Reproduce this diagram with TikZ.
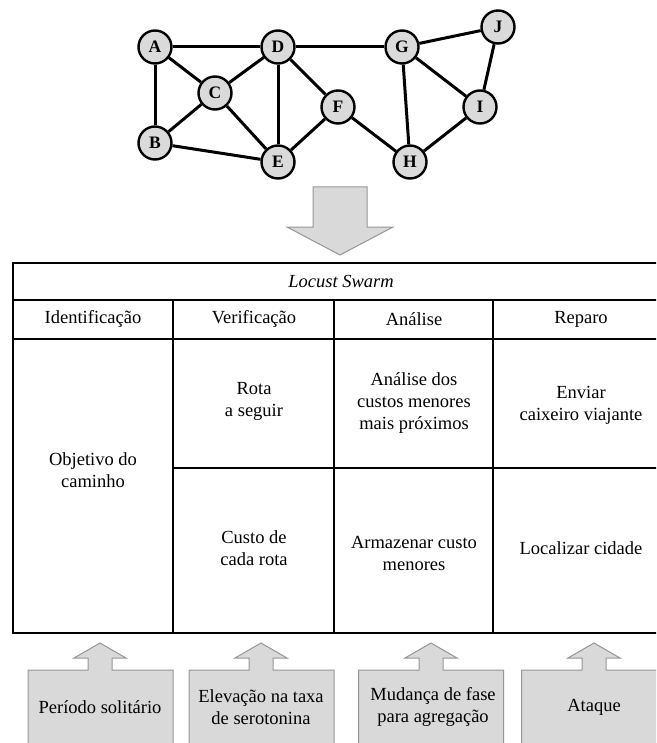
\documentclass[tikz,border=0pt]{standalone}
\usepackage{fontspec}
\setmainfont{Liberation Serif}
\definecolor{nodegray}{RGB}{218,218,218}
\definecolor{boxgray}{RGB}{217,217,217}
\definecolor{boxedge}{RGB}{150,150,150}
\begin{document}
\begin{tikzpicture}[x=1pt,y=-1pt,
  city/.style={circle,draw=black,line width=2.4pt,fill=nodegray,minimum size=33pt,
    inner sep=0pt,font=\fontsize{17.5}{17.5}\selectfont\bfseries},
  road/.style={line width=3pt,black},
  grid/.style={line width=1.8pt,black},
  frame/.style={line width=2.8pt,black},
  cell/.style={align=center,inner sep=0pt,font=\fontsize{18.5}{22}\selectfont},
  callout/.style={fill=boxgray,draw=boxedge,line width=1pt,line join=miter},
  bigarrow/.style={fill=boxgray,draw=boxedge,line width=1pt}]
\useasboundingbox (0,0) rectangle (656,743);
\clip (0,0) rectangle (656,743);

% graph of cities
\node[city] (A) at (155,47) {A};
\node[city] (D) at (278,47) {D};
\node[city] (G) at (402,47) {G};
\node[city] (J) at (498,27) {J};
\node[city] (C) at (215,93) {C};
\node[city] (F) at (338,107) {F};
\node[city] (I) at (480,107) {I};
\node[city] (B) at (155,143) {B};
\node[city] (E) at (278,162) {E};
\node[city] (H) at (410,162) {H};
\foreach \u/\v in {A/D,D/G,G/J,A/C,A/B,C/D,C/B,C/E,D/E,D/F,B/E,F/E,F/H,G/H,G/I,J/I,I/H}
  \draw[road] (\u) -- (\v);

% downward arrow
\draw[bigarrow] (313,187) -- (367,187) -- (367,227) -- (393,227) -- (340,255)
  -- (287,227) -- (313,227) -- cycle;

% table
\draw[grid] (13,300) -- (669,300);
\draw[grid] (13,339) -- (669,339);
\draw[grid] (173,300) -- (173,633);
\draw[grid] (334,300) -- (334,633);
\draw[grid] (493,300) -- (493,633);
\draw[grid] (173,468) -- (669,468);
\draw[frame] (13,263) rectangle (669,633);

\node[cell,font=\fontsize{18.5}{22}\selectfont\itshape] (title) at (341,281) {Locust Swarm};
\node[cell] (h1) at (93,319) {Identificação};
\node[cell] (h2) at (254,319) {Verificação};
\node[cell] (h3) at (414,319) {Análise};
\node[cell] (h4) at (581,319) {Reparo};

\node[cell] (c1) at (93,470) {Objetivo do\\caminho};
\node[cell] (c2) at (254,401) {Rota\\a seguir};
\node[cell] (c3) at (414,403) {Análise dos\\custos menores\\mais próximos};
\node[cell] (c4) at (581,405) {Enviar\\caixeiro viajante};
\node[cell] (c5) at (254,548) {Custo de\\cada rota};
\node[cell] (c6) at (414,553) {Armazenar custo\\menores};
\node[cell] (c7) at (581,548) {Localizar cidade};

% up-arrow callouts
\foreach \cx/\ax in {100.5/100,261.5/261,431/431,594/594}{
  \draw[callout] (\cx-72.5,760) -- (\cx-72.5,670) -- (\ax-12,670) -- (\ax-12,658)
    -- (\ax-26,658) -- (\ax,643) -- (\ax+26,658) -- (\ax+12,658) -- (\ax+12,670)
    -- (\cx+72.5,670) -- (\cx+72.5,760);
}
\node[cell] (p1) at (100,707) {Período solitário};
\node[cell] (p2) at (261,707) {Elevação na taxa\\de serotonina};
\node[cell] (p3) at (433,707) {Mudança de fase\\para agregação};
\node[cell] (p4) at (594,707) {Ataque};
\end{tikzpicture}
\end{document}
